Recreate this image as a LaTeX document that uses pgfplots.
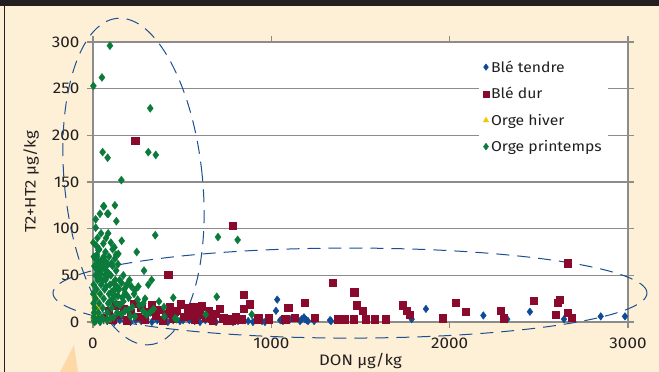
\documentclass[border=0pt]{standalone}
\usepackage{pgfplots}
\pgfplotsset{compat=1.18}
\usepackage{fontspec}
\setmainfont{Fira Sans}[FakeStretch=1.1]
\definecolor{bgbeige}{HTML}{FEF0D6}
\definecolor{hdr}{HTML}{231F20}
\definecolor{txt}{HTML}{231F20}
\definecolor{cblue}{HTML}{0D4B97}
\definecolor{cred}{HTML}{8A0A2E}
\definecolor{cgreen}{HTML}{0B7B3B}
\definecolor{cyellow}{HTML}{F7C600}
\definecolor{ell}{HTML}{1B4F93}
\definecolor{callout}{HTML}{FDD9A8}
\definecolor{gridc}{HTML}{8C8C8C}
\begin{document}
\begin{tikzpicture}[x=1pt,y=1pt]
\useasboundingbox (0,0) rectangle (659,372);
\fill[bgbeige] (0,0) rectangle (659,372);
\fill[hdr] (0,366) rectangle (659,372);
\draw[hdr,line width=1.2pt] (4.6,0) -- (4.6,366);
\fill[callout] (60,0) -- (78,0) -- (74,27) -- cycle;
\begin{axis}[
  at={(93pt,50pt)}, anchor=origin,
  scale only axis, width=535pt, height=280pt,
  xmin=0, xmax=3000, ymin=0, ymax=300,
  xtick={0,1000,2000,3000}, ytick={0,50,...,300},
  ymajorgrids, major grid style={gridc, line width=1.1pt},
  axis line style={gridc, line width=1.1pt},
  tick style={gridc, line width=1.1pt},
  tick align=outside, major tick length=6pt,
  axis background/.style={fill=white},
  clip=false,
  /pgf/number format/assume math mode=true,
  /pgf/number format/1000 sep={},
  tick label style={font=\fontsize{15.5}{17}\selectfont, text=txt},
  xticklabel style={yshift=-6pt},
  yticklabel style={xshift=-4pt},
  xlabel={DON µg/kg}, ylabel={T2+HT2 µg/kg},
  every axis x label/.style={at={(axis description cs:0.5,0)}, anchor=center, yshift=-39pt, font=\fontsize{15.2}{17}\selectfont, text=txt},
  every axis y label/.style={at={(axis description cs:0,0.5)}, anchor=center, rotate=90, yshift=62pt, font=\fontsize{15.2}{17}\selectfont, text=txt},
  legend cell align=left,
  legend style={at={(0.721,0.952)}, anchor=north west, draw=none, fill=white,
    font=\fontsize{14.3}{16}\selectfont, text=txt, row sep=9.7pt, inner xsep=4pt, inner ysep=3pt},
  legend image post style={scale=0.85},
]
\addplot[only marks, mark=diamond*, mark size=3.8pt, color=cblue] coordinates {
(5,2)(15,1)(25,3)(40,0)(60,2)(80,1)(100,3)(120,0)(150,2)(180,1)(210,0)(240,2)(270,1)(300,3)(330,0)(360,2)(390,1)(420,0)(450,2)(488,1)(505,2)(540,2)(570,1)(600,0)(630,2)(660,1)(690,0)(740,2)(768,1)(785,0)(807,2)(813,1)(840,2)(870,1)(897,0)(920,2)(948,1)(964,0)(993,2)(1026,12)(1033,24)(1050,2)(1065,1)(1105,3)(1121,4)(1161,1)(1170,3)(1183,5)(1189,3)(1198,2)(1206,1)(1240,1)(1329,2)(1335,1)(1525,4)(1787,3)(1867,14)(2189,7)(2323,3)(2450,11)(2641,3)(2847,6)(2983,6)
};
\addlegendentry{Blé tendre}
\addplot[only marks, mark=square*, mark size=3.6pt, color=cred] coordinates {
(60,5)(90,12)(110,3)(130,18)(150,8)(170,14)(190,2)(210,10)(230,20)(250,6)(270,15)(290,3)(310,11)(330,18)(350,7)(370,13)(390,2)(410,9)(430,16)(450,4)(470,12)(490,19)(510,6)(530,10)(550,15)(570,3)(590,8)(610,17)(630,5)(650,12)(670,2)(690,9)(710,14)(730,4)(750,1)(775,2)(800,6)(820,3)
(237,194)(422,51)(783,103)
(432,13)(460,11)(534,15)(562,16)(600,11)(544,7)(572,4)(675,9)(666,4)(768,3)(834,3)(927,4)(983,4)(1077,3)(1095,15)
(843,29)(877,19)(843,14)(763,3)(819,3)(925,3)(987,3)(1082,3)(1099,15)(1133,5)(1185,21)(1241,5)(1344,42)(1370,3)(1413,3)(1460,3)(1465,32)(1478,18)(1512,12)(1531,3)(1581,3)(1643,3)(1736,18)(1759,12)(1777,8)(1961,4)(2035,21)(2090,11)(2286,12)(2305,4)(2469,23)(2596,8)(2607,21)(2615,24)(2662,10)(2686,5)(2660,63)
};
\addlegendentry{Blé dur}
\addplot[only marks, mark=triangle*, mark size=3.6pt, color=cyellow] coordinates {
(3,5)(8,12)(15,25)(20,31)(12,18)(25,3)(5,0)(30,8)(40,2)(10,28)(18,8)(35,15)(60,1)(85,2)
};
\addlegendentry{Orge hiver}
\addplot[only marks, mark=diamond*, mark size=4pt, color=cgreen] coordinates {
(95,296)(50,262)(2,253)(321,229)(54,182)(82,176)(310,182)(352,179)(159,152)(58,124)(123,125)(39,116)(80,116)(15,110)(131,108)(15,101)(349,93)(73,90)(161,87)(58,84)(245,75)(129,72)(286,55)(701,91)(811,88)(694,27)(450,26)(329,45)(189,39)(632,8)(469,3)(890,8)
(62,124)(86,116)(142,73)(123,68)(105,63)(30,77)(20,70)(39,65)(11,59)(49,56)(67,50)(39,47)(310,40)(254,38)(235,34)(189,40)(179,31)(142,34)(133,38)(292,25)(282,20)(398,16)(320,10)(198,13)(235,6)(460,4)
(5,5)(10,15)(15,25)(20,35)(25,45)(30,10)(35,20)(40,30)(45,40)(50,5)(55,15)(60,25)(65,35)(70,45)(75,55)(80,10)(85,20)(90,30)(95,40)(100,50)(105,15)(110,25)(115,5)(120,35)(125,45)(130,20)(135,10)(140,28)(150,18)(160,8)(170,22)(180,12)(200,26)(210,6)(220,16)(8,60)(12,68)(22,72)(28,64)(35,78)(48,66)(60,70)(4,40)(2,30)(3,20)(6,10)(9,0)(18,2)(28,4)(38,1)(58,3)(78,2)(98,4)(14,50)(24,55)(34,48)(44,52)(64,58)(84,62)(54,44)(74,38)(94,22)(104,32)(114,42)(124,28)(144,36)(164,26)(184,30)(260,18)(280,12)(300,8)(340,14)(370,22)(400,6)(230,30)(250,24)
(150,45)(170,50)(110,60)(130,55)(140,62)(160,42)(175,35)(205,45)(215,38)(120,80)(100,85)(85,95)(45,95)(25,90)(70,75)(90,70)(110,78)(2,85)(5,70)(18,82)(32,60)(52,62)(66,66)(78,48)(88,52)
};
\addlegendentry{Orge printemps}
\draw[ell, line width=1pt, dash pattern=on 13pt off 8pt, rotate around={5.8:(axis cs:227,150.5)}] (axis cs:227,150.5) ellipse (69pt and 164pt);
\draw[ell, line width=1pt, dash pattern=on 13pt off 8pt] (axis cs:1441,31) ellipse (297pt and 45pt);
\end{axis}
\end{tikzpicture}
\end{document}
